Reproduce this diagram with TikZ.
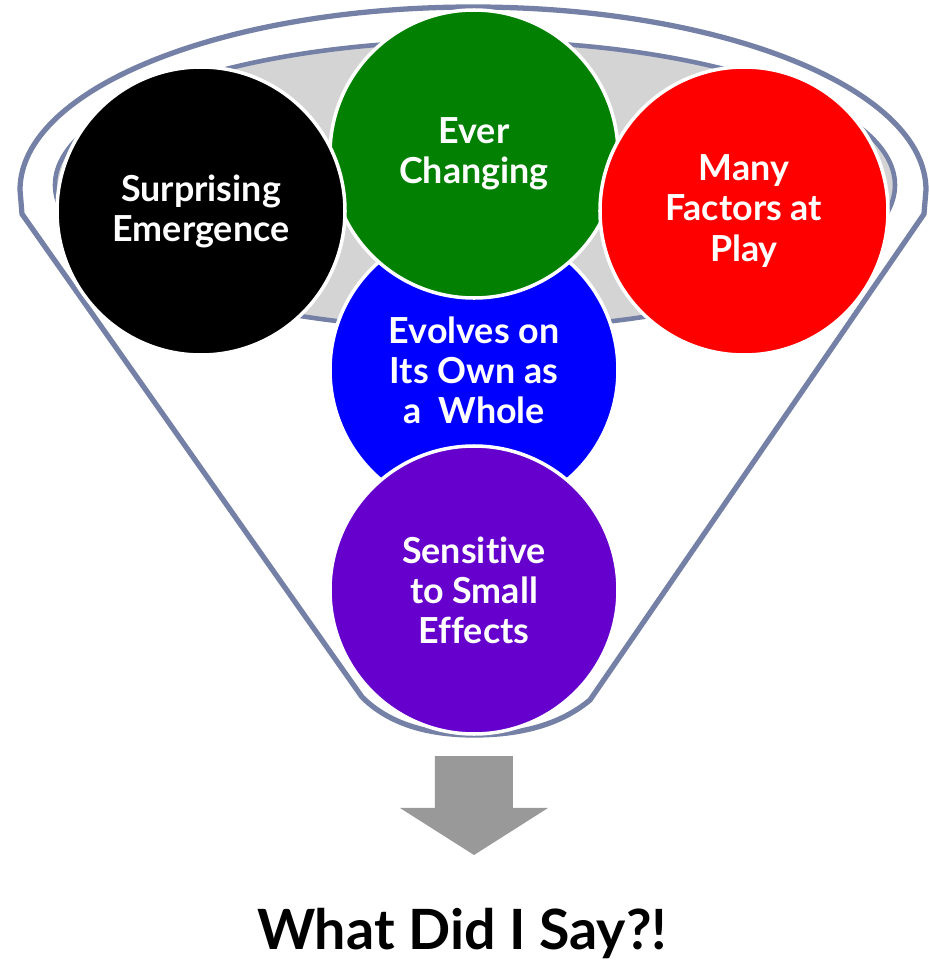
\documentclass[tikz,border=0pt]{standalone}
\usepackage{fontspec}
\setmainfont{Lato}[Ligatures=NoCommon]
\definecolor{rim}{HTML}{7480A6}
\definecolor{cup}{HTML}{D4D4D4}
\definecolor{leaf}{HTML}{028002}
\definecolor{violet}{HTML}{6600CC}
\definecolor{pointer}{HTML}{999999}
\begin{document}
\begin{tikzpicture}[
	ball/.style={circle,draw=white,line width=1pt,minimum size=2.88cm,inner sep=0pt,
		text=white,align=center,font=\bfseries\fontsize{10.2}{11.4}\selectfont}]
				\useasboundingbox (0,0) rectangle (9.29,9.6);
				% funnel
				\draw [rim,line width=1.5pt,fill=white] (0.22,7.46) -- (0.2,7.7) arc [start angle=180,end angle=0,x radius=4.53,y radius=1.83] -- (9.24,7.46) -- (5.9,2.6) .. controls (5.6,2.35) and (5.2,2.25) .. (4.74,2.25) .. controls (4.3,2.25) and (3.9,2.35) .. (3.62,2.63) -- cycle;
				\draw [rim,line width=1.3pt,fill=cup] (4.75,7.75) circle [x radius=4.2, y radius=1.44];

				\node [ball,fill=blue] (whole) at (4.74,5.9) {Evolves on\\Its Own as\\a~ Whole};
				\node [ball,fill=leaf] (changing) at (4.74,8.06) {Ever\\Changing};
				\node [ball,fill=black] (emergence) at (2.01,7.49) {Surprising\\Emergence};
				\node [ball,fill=red] (factors) at (7.44,7.49) {Many\\Factors at\\Play};
				\node [ball,fill=violet] (effects) at (4.74,3.7) {Sensitive\\to Small\\Effects};

				% arrow
				\fill [pointer] (4.35,2.04) -- (5.13,2.04) -- (5.13,1.52) -- (5.48,1.52) -- (4.74,1.05) -- (4.0,1.52) -- (4.35,1.52) -- cycle;
				\node [anchor=base,font=\bfseries\fontsize{15.8}{19}\selectfont] (say) at (4.62,0.1) {What Did I Say?!};
			\end{tikzpicture}
\end{document}
